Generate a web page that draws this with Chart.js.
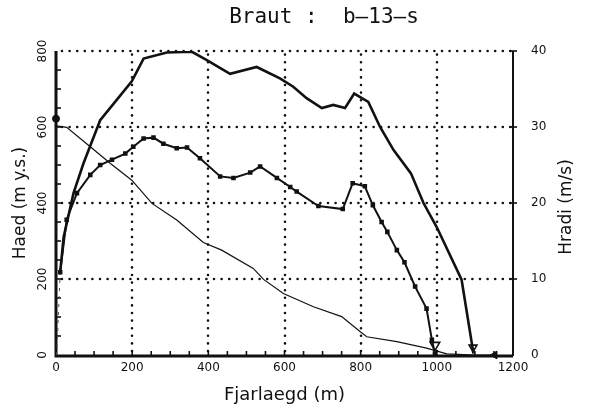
<!DOCTYPE html>
<html>
<head>
<meta charset="utf-8">
<script src="https://cdn.jsdelivr.net/npm/chart.js@4.4.0/dist/chart.umd.min.js"></script>
<style>
  html, body { margin: 0; background: #fff; }
</style>
</head>
<body>
<canvas id="chart" width="593" height="416"></canvas>
<script>
/* ---------- data ---------- */
// upper speed curve (right axis, m/s)
const distUpper  = [11, 20, 46, 72, 116, 160, 199, 230, 291, 357, 396, 457, 527, 588, 623, 658, 698, 728, 759, 783, 820, 851, 886, 932, 965, 1000, 1065, 1092, 1096];
const speedUpper = [10.9, 15.5, 21.3, 25.2, 30.9, 33.6, 36.0, 39.0, 39.8, 39.9, 38.8, 37.0, 37.9, 36.4, 35.3, 33.8, 32.5, 32.9, 32.5, 34.4, 33.3, 30.0, 27.0, 23.9, 20.0, 16.8, 9.9, 1.5, 0.2];

// lower speed curve with markers (right axis, m/s)
const distLower  = [11, 28, 55, 90, 116, 147, 182, 203, 230, 256, 282, 317, 344, 378, 431, 466, 510, 536, 580, 615, 632, 689, 753, 779, 811, 832, 855, 870, 895, 915, 943, 973, 987, 995];
const speedLower = [10.9, 17.8, 21.3, 23.7, 25.0, 25.7, 26.5, 27.4, 28.5, 28.6, 27.8, 27.2, 27.3, 25.9, 23.5, 23.3, 24.0, 24.8, 23.3, 22.1, 21.5, 19.6, 19.2, 22.6, 22.2, 19.7, 17.5, 16.2, 13.8, 12.2, 9.0, 6.1, 2.0, 0.2];

// terrain profile (left axis, m a.s.l.)
const distTerrain   = [0, 28, 90, 143, 199, 252, 317, 387, 435, 518, 545, 597, 676, 750, 799, 816, 895, 973, 1026, 1100, 1150];
const heightTerrain = [603, 599, 548, 504, 460, 399, 355, 296, 276, 228, 199, 162, 127, 101, 61, 48, 35, 18, 3, 0, 0];

// dashed start stub shared by both speed curves
const distStart  = [2, 11];
const speedStart = [0, 10.9];

// run-out markers
const stopDist  = [995, 1095];
const stopSpeed = [1.3, 1.0];

const xTicks     = [0, 200, 400, 600, 800, 1000, 1200];
const leftTicks  = [0, 200, 400, 600, 800];
const rightTicks = [0, 10, 20, 30, 40];

const ink = '#111';
const pts = (xs, ys) => xs.map((x, i) => ({ x: x, y: ys[i] }));

/* ---------- frame: dotted grid, axes, minor ticks, titles ---------- */
const plotFrame = {
  id: 'plotFrame',
  beforeDatasetsDraw(chart) {
    const { ctx, chartArea: a, scales } = chart;
    const sx = scales.x, sy = scales.y, sr = scales.yR;
    ctx.save();
    ctx.strokeStyle = ink;

    // dotted grid
    ctx.lineWidth = 2.6;
    ctx.lineCap = 'round';
    ctx.setLineDash([0, 7.6]);
    xTicks.slice(1, -1).forEach(v => {
      const px = Math.round(sx.getPixelForValue(v));
      ctx.beginPath(); ctx.moveTo(px, a.bottom - 4); ctx.lineTo(px, a.top); ctx.stroke();
    });
    leftTicks.slice(1).forEach(v => {
      const py = Math.round(sy.getPixelForValue(v));
      ctx.beginPath(); ctx.moveTo(a.left + 6, py); ctx.lineTo(a.right, py); ctx.stroke();
    });
    ctx.setLineDash([]);
    ctx.lineCap = 'butt';

    // minor ticks
    ctx.lineWidth = 1.6;
    for (let v = 50; v < 1200; v += 50) {
      const px = sx.getPixelForValue(v);
      ctx.beginPath(); ctx.moveTo(px, a.bottom); ctx.lineTo(px, a.bottom - 4); ctx.stroke();
    }
    for (let v = 50; v < 800; v += 50) {
      const py = sy.getPixelForValue(v);
      ctx.beginPath(); ctx.moveTo(a.left, py); ctx.lineTo(a.left + 5, py); ctx.stroke();
    }
    rightTicks.slice(1).forEach(v => {
      const py = sr.getPixelForValue(v);
      ctx.beginPath(); ctx.moveTo(a.right - 4, py); ctx.lineTo(a.right + 4, py); ctx.stroke();
    });

    // axis lines
    ctx.lineWidth = 3;
    ctx.beginPath(); ctx.moveTo(a.left, a.top); ctx.lineTo(a.left, a.bottom + 1); ctx.lineTo(a.right, a.bottom + 1); ctx.stroke();
    ctx.lineWidth = 2;
    ctx.beginPath(); ctx.moveTo(a.right, a.top); ctx.lineTo(a.right, a.bottom + 1); ctx.stroke();
    ctx.restore();
  },
  afterDraw(chart) {
    const { ctx, chartArea: a } = chart;
    ctx.save();
    ctx.fillStyle = ink;
    ctx.textAlign = 'center';
    ctx.textBaseline = 'middle';
    ctx.font = '21px "DejaVu Sans Mono"';
    ctx.fillText('Braut :  b\u201313\u2013s', 324, 18);

    ctx.font = '17px "DejaVu Sans"';
    ctx.translate(567, (a.top + a.bottom) / 2 + 4);
    ctx.rotate(-Math.PI / 2);
    ctx.fillText('Hradi (m/s)', 0, 0);
    ctx.restore();
  }
};

/* ---------- chart ---------- */
new Chart(document.getElementById('chart'), {
  type: 'line',
  data: {
    datasets: [
      {
        label: 'upper',
        data: pts(distUpper, speedUpper),
        yAxisID: 'yR',
        borderColor: ink,
        borderWidth: 2.6,
        pointRadius: 0,
        tension: 0
      },
      {
        label: 'lower',
        data: pts(distLower, speedLower),
        yAxisID: 'yR',
        borderColor: ink,
        backgroundColor: ink,
        borderWidth: 2,
        pointStyle: 'rect',
        pointRadius: 1.8,
        tension: 0
      },
      {
        label: 'terrain',
        data: pts(distTerrain, heightTerrain),
        yAxisID: 'y',
        borderColor: ink,
        borderWidth: 1.2,
        pointRadius: 0,
        tension: 0
      },
      {
        label: 'start',
        data: pts(distStart, speedStart),
        yAxisID: 'yR',
        borderColor: '#555',
        borderWidth: 1,
        borderDash: [3, 5],
        pointRadius: 0
      },
      {
        label: 'stop',
        data: pts(stopDist, stopSpeed),
        yAxisID: 'yR',
        showLine: false,
        pointStyle: 'triangle',
        rotation: 180,
        pointRadius: [5.5, 4.5],
        borderColor: ink,
        backgroundColor: '#fff',
        borderWidth: 1.6
      },
      {
        label: 'arrow',
        data: [{ x: 1152, y: 0 }],
        yAxisID: 'yR',
        showLine: false,
        pointStyle: 'triangle',
        rotation: 270,
        pointRadius: 4.5,
        borderColor: ink,
        backgroundColor: ink,
        clip: false
      },
      {
        label: 'top',
        data: [{ x: 0, y: 622 }],
        yAxisID: 'y',
        showLine: false,
        pointRadius: 3.5,
        borderColor: ink,
        backgroundColor: ink,
        clip: false
      }
    ]
  },
  options: {
    responsive: false,
    animation: false,
    layout: { padding: { top: 51, left: 0, right: 0, bottom: 0 } },
    plugins: {
      legend: { display: false },
      tooltip: { enabled: false }
    },
    scales: {
      x: {
        type: 'linear',
        min: 0,
        max: 1200,
        afterBuildTicks: s => { s.ticks = xTicks.map(v => ({ value: v })); },
        afterFit: s => { s.height = 61; },
        grid: { display: false, drawTicks: false },
        border: { display: false },
        ticks: { color: ink, padding: 6, maxRotation: 0, callback: v => String(v), font: { family: 'DejaVu Sans', size: 12 } },
        title: { display: true, text: 'Fjarlaegd (m)', color: ink, font: { family: 'DejaVu Sans', size: 18 }, padding: { top: 0, bottom: 10 } }
      },
      y: {
        position: 'left',
        min: 0,
        max: 800,
        afterBuildTicks: s => { s.ticks = leftTicks.map(v => ({ value: v })); },
        afterFit: s => { s.width = 56; },
        grid: { display: false, drawTicks: false },
        border: { display: false },
        ticks: { color: ink, padding: 2, crossAlign: 'center', minRotation: 90, maxRotation: 90, callback: v => String(v), font: { family: 'DejaVu Sans', size: 12 } },
        title: { display: true, text: 'Haed (m y.s.)', color: ink, font: { family: 'DejaVu Sans', size: 17 }, padding: { top: 10, bottom: 0 } }
      },
      yR: {
        position: 'right',
        min: 0,
        max: 40,
        afterBuildTicks: s => { s.ticks = rightTicks.map(v => ({ value: v })); },
        afterFit: s => { s.width = 80; },
        grid: { display: false, drawTicks: false },
        border: { display: false },
        ticks: { color: ink, padding: 18, callback: v => String(v), font: { family: 'DejaVu Sans', size: 12 } }
      }
    }
  },
  plugins: [plotFrame]
});
</script>
</body>
</html>
